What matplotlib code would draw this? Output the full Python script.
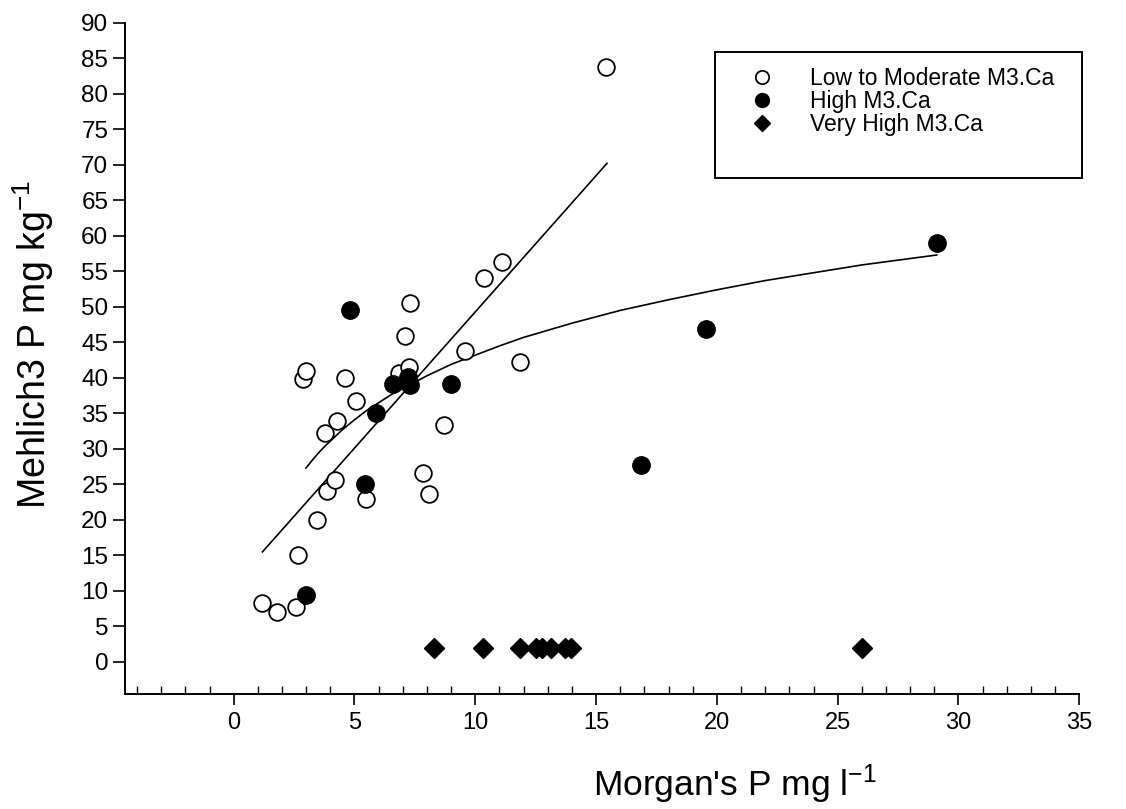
import numpy as np
import matplotlib
matplotlib.use("Agg")
import matplotlib.pyplot as plt
from matplotlib.ticker import MultipleLocator
from matplotlib.patches import Rectangle

plt.rcParams['font.family'] = ['Liberation Sans', 'DejaVu Sans']
plt.rcParams['mathtext.default'] = 'regular'

# Low to Moderate M3.Ca (open circles)
low_x = [1.19, 1.81, 2.57, 2.67, 2.85, 2.99, 3.46, 3.79, 3.86, 4.20, 4.29, 4.60, 5.06,
         5.47, 6.85, 7.10, 7.26, 7.28, 7.82, 8.10, 8.71, 9.58, 10.38, 11.11, 11.86, 15.42]
low_y = [8.3, 7.1, 7.8, 15.1, 39.8, 41.0, 20.0, 32.3, 24.1, 25.6, 33.9, 40.0, 36.7,
         23.0, 40.7, 45.9, 41.6, 50.6, 26.6, 23.6, 33.3, 43.8, 54.1, 56.3, 42.3, 83.7]

# High M3.Ca (filled circles)
high_x = [2.99, 4.81, 5.43, 5.89, 6.58, 7.20, 7.30, 8.98, 16.87, 19.56, 29.1]
high_y = [9.5, 49.6, 25.0, 35.0, 39.1, 40.1, 39.0, 39.1, 27.7, 46.9, 59.0]

# Very High M3.Ca (diamonds)
vhigh_x = [8.30, 10.31, 11.83, 12.52, 12.78, 13.14, 13.72, 13.97, 26.01]
vhigh_y = [2.0, 2.0, 2.0, 2.0, 2.0, 2.0, 2.0, 2.0, 2.0]

# fitted lines
lin_x = [1.19, 15.45]
lin_y = [15.5, 70.2]
curve_x = [2.99, 3.25, 3.5, 3.75, 4, 4.25, 4.5, 4.75, 5, 5.5, 6, 6.5, 7, 7.5, 8, 9, 10,
           11, 12, 13, 14, 16, 18, 20, 22, 24, 26, 29.1]
curve_y = [27.3, 28.4, 29.4, 30.3, 31.1, 31.9, 32.7, 33.4, 34.1, 35.4, 36.5, 37.6, 38.5,
           39.4, 40.3, 41.9, 43.2, 44.5, 45.7, 46.7, 47.7, 49.5, 51.0, 52.4, 53.7, 54.8,
           55.9, 57.3]

fig = plt.figure(figsize=(11.26, 8.09), dpi=100)
ax = fig.add_axes([0.1110, 0.1422, 0.8475, 0.8297])

ax.plot(lin_x, lin_y, color='black', lw=1.2)
ax.plot(curve_x, curve_y, color='black', lw=1.2)

ax.plot(low_x, low_y, 'o', ms=12, mfc='white', mec='black', mew=1.3, ls='none',
        label='Low to Moderate M3.Ca')
ax.plot(high_x, high_y, 'o', ms=12.5, mfc='black', mec='black', ls='none',
        label='High M3.Ca')
ax.plot(vhigh_x, vhigh_y, 'D', ms=10.5, mfc='black', mec='black', ls='none',
        label='Very High M3.Ca')

ax.set_xlim(-4.5, 35)
ax.set_ylim(-4.5, 90)
ax.xaxis.set_major_locator(MultipleLocator(5))
ax.xaxis.set_minor_locator(MultipleLocator(1))
ax.yaxis.set_major_locator(MultipleLocator(5))

for s in ['top', 'right']:
    ax.spines[s].set_visible(False)
for s in ['left', 'bottom']:
    ax.spines[s].set_linewidth(1.4)

ax.tick_params(axis='x', which='major', direction='out', length=8, width=1.2,
               labelsize=17, pad=5)
ax.tick_params(axis='x', which='minor', direction='in', length=6, width=1.0)
ax.tick_params(axis='y', which='major', direction='out', length=9, width=1.2,
               labelsize=17.5, pad=3)

ax.set_xlabel("Morgan's P mg l$^{-1}$", fontsize=25.5)
ax.set_ylabel("Mehlich3 P mg kg$^{-1}$", fontsize=27)
ax.xaxis.set_label_coords(0.639, -0.102)
ax.yaxis.set_label_coords(-0.072, 0.52)

leg = ax.legend(loc='upper left', bbox_to_anchor=(750.5 / 1126, 1 - 67 / 809),
                bbox_transform=fig.transFigure, frameon=False, fontsize=16.5,
                handlelength=1.0, handletextpad=1.6, labelspacing=0.0,
                borderpad=0, borderaxespad=0, markerscale=0.8)
fig.patches.append(Rectangle((715 / 1126, 1 - 178.3 / 809), (1082 - 715) / 1126,
                             (178.3 - 51.7) / 809, transform=fig.transFigure,
                             fill=False, edgecolor='black', lw=1.4))

fig.savefig('out.png', dpi=100)
